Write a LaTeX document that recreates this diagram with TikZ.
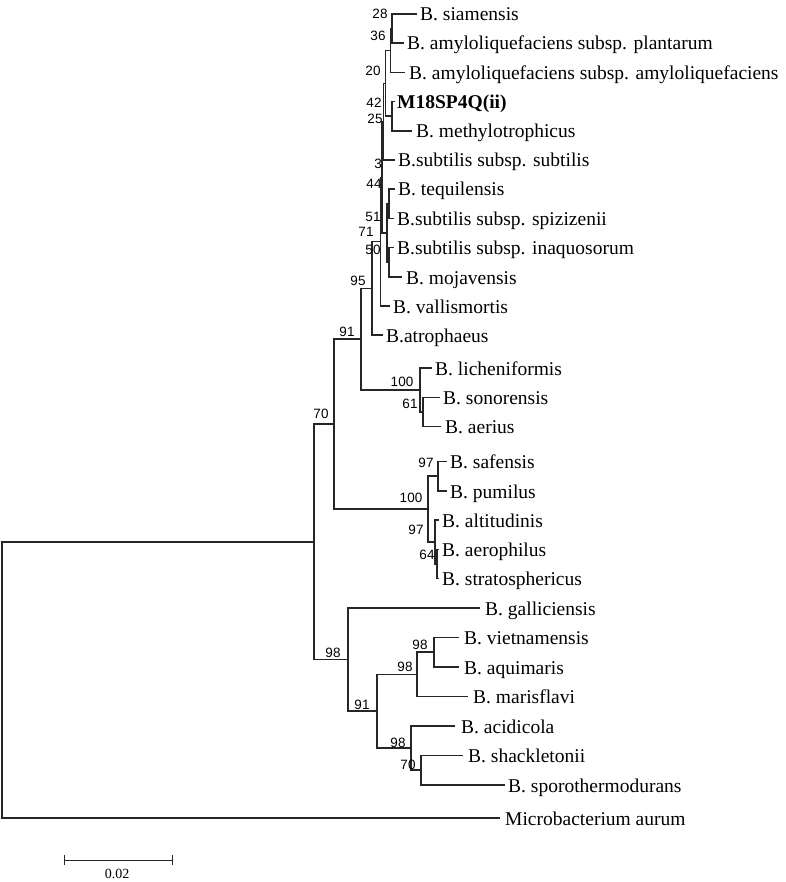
\documentclass[tikz,border=0pt]{standalone}
\usepackage{fontspec}
\setmainfont{Liberation Serif}
\newfontfamily\bsfont{Liberation Sans}
\begin{document}
\begin{tikzpicture}[x=1pt,y=-1pt,
  br/.style={line width=1.3pt, draw=black!85},
  leaf/.style={anchor=base west, inner sep=0pt, font=\fontsize{19.5}{23}\selectfont},
  bs/.style={inner sep=0pt, font=\bsfont\fontsize{13.5}{15}\selectfont},
  sbl/.style={inner sep=0pt, font=\fontsize{14}{16}\selectfont}]
\useasboundingbox (0,0) rectangle (785,882);
% leaf line ends
\coordinate (e0) at (417,14);
\coordinate (e1) at (404,43);
\coordinate (e2) at (405,72.5);
\coordinate (e3) at (395,101.5);
\coordinate (e4) at (412,131);
\coordinate (e5) at (395,160);
\coordinate (e6) at (395,189);
\coordinate (e7) at (394,218.5);
\coordinate (e8) at (394,247.5);
\coordinate (e9) at (402,277);
\coordinate (e10) at (390,306);
\coordinate (e11) at (383,335);
\coordinate (e12) at (432,368);
\coordinate (e13) at (440,397.5);
\coordinate (e14) at (441,426.5);
\coordinate (e15) at (447,461.5);
\coordinate (e16) at (447,491);
\coordinate (e17) at (439,520);
\coordinate (e18) at (439,549.5);
\coordinate (e19) at (439,578.5);
\coordinate (e20) at (480,608);
\coordinate (e21) at (459,637.5);
\coordinate (e22) at (459,667);
\coordinate (e23) at (468,696.5);
\coordinate (e24) at (455,726);
\coordinate (e25) at (463,755.5);
\coordinate (e26) at (505,785);
\coordinate (e27) at (500,818);
% leaf labels
\node[leaf] (siam) at (420,21) {B. siamensis};
\node[leaf] (plant) at (407,50) {B. amyloliquefaciens subsp. plantarum};
\node[leaf] (amylo) at (409,79.5) {B. amyloliquefaciens subsp. amyloliquefaciens};
\node[leaf] (m18) at (397,108.5) {\bfseries M18SP4Q(ii)};
\node[leaf] (methylo) at (416,138) {B. methylotrophicus};
\node[leaf] (subt) at (398,167) {B.subtilis subsp. subtilis};
\node[leaf] (tequil) at (398,196) {B. tequilensis};
\node[leaf] (spiz) at (397,225.5) {B.subtilis subsp. spizizenii};
\node[leaf] (inaq) at (397,254.5) {B.subtilis subsp. inaquosorum};
\node[leaf] (moj) at (406,284) {B. mojavensis};
\node[leaf] (vallis) at (393,313) {B. vallismortis};
\node[leaf] (atroph) at (386,342) {B.atrophaeus};
\node[leaf] (lich) at (435,375) {B. licheniformis};
\node[leaf] (son) at (443,404.5) {B. sonorensis};
\node[leaf] (aer) at (445,433.5) {B. aerius};
\node[leaf] (saf) at (450,468.5) {B. safensis};
\node[leaf] (pum) at (450,498) {B. pumilus};
\node[leaf] (alt) at (442,527) {B. altitudinis};
\node[leaf] (aeroph) at (442,556.5) {B. aerophilus};
\node[leaf] (strat) at (442,585.5) {B. stratosphericus};
\node[leaf] (gall) at (485,615) {B. galliciensis};
\node[leaf] (viet) at (464,644.5) {B. vietnamensis};
\node[leaf] (aqui) at (464,674) {B. aquimaris};
\node[leaf] (maris) at (473,703.5) {B. marisflavi};
\node[leaf] (acid) at (461,733) {B. acidicola};
\node[leaf] (shack) at (468,762.5) {B. shackletonii};
\node[leaf] (sporo) at (508,792) {B. sporothermodurans};
\node[leaf] (micro) at (505,825) {Microbacterium aurum};
% internal nodes
\coordinate (n28) at (392,28.5);
\coordinate (n36) at (390.5,50.5);
\coordinate (n42) at (392,116);
\coordinate (n20) at (385.5,83.5);
\coordinate (n25) at (383.5,121.5);
\coordinate (n44) at (389,204);
\coordinate (n50) at (389,262);
\coordinate (n51) at (387,233);
\coordinate (n3) at (382,177.5);
\coordinate (n71) at (380.5,241.5);
\coordinate (n95) at (372,288.5);
\coordinate (n61) at (423,412);
\coordinate (n100a) at (420,390);
\coordinate (n91) at (361,339);
\coordinate (n97a) at (438,476);
\coordinate (n64) at (437,564);
\coordinate (n97b) at (435,542);
\coordinate (n100b) at (428,509);
\coordinate (n70) at (334,424);
\coordinate (n98c) at (434,652);
\coordinate (n98b) at (417,674.5);
\coordinate (n70b) at (421,770);
\coordinate (n98d) at (411,748);
\coordinate (n91b) at (377,711);
\coordinate (n98a) at (348,659.5);
\coordinate (nB) at (314,542);
\coordinate (root) at (2,680);
% branches
\draw[br] (n28) |- (e0); \draw[br] (n28) |- (e1);
\draw[br] (n36) |- (n28); \draw[br] (n36) |- (e2);
\draw[br] (n42) |- (e3); \draw[br] (n42) |- (e4);
\draw[br] (n20) |- (n36); \draw[br] (n20) |- (n42);
\draw[br] (n25) |- (n20); \draw[br] (n25) |- (e5);
\draw[br] (n44) |- (e6); \draw[br] (n44) |- (e7);
\draw[br] (n50) |- (e8); \draw[br] (n50) |- (e9);
\draw[br] (n51) |- (n44); \draw[br] (n51) |- (n50);
\draw[br] (n3) |- (n25); \draw[br] (n3) |- (n51);
\draw[br] (n71) |- (n3); \draw[br] (n71) |- (e10);
\draw[br] (n95) |- (n71); \draw[br] (n95) |- (e11);
\draw[br] (n61) |- (e13); \draw[br] (n61) |- (e14);
\draw[br] (n100a) |- (e12); \draw[br] (n100a) |- (n61);
\draw[br] (n91) |- (n95); \draw[br] (n91) |- (n100a);
\draw[br] (n97a) |- (e15); \draw[br] (n97a) |- (e16);
\draw[br] (n64) |- (e18); \draw[br] (n64) |- (e19);
\draw[br] (n97b) |- (e17); \draw[br] (n97b) |- (n64);
\draw[br] (n100b) |- (n97a); \draw[br] (n100b) |- (n97b);
\draw[br] (n70) |- (n91); \draw[br] (n70) |- (n100b);
\draw[br] (n98c) |- (e21); \draw[br] (n98c) |- (e22);
\draw[br] (n98b) |- (n98c); \draw[br] (n98b) |- (e23);
\draw[br] (n70b) |- (e25); \draw[br] (n70b) |- (e26);
\draw[br] (n98d) |- (e24); \draw[br] (n98d) |- (n70b);
\draw[br] (n91b) |- (n98b); \draw[br] (n91b) |- (n98d);
\draw[br] (n98a) |- (e20); \draw[br] (n98a) |- (n91b);
\draw[br] (nB) |- (n70); \draw[br] (nB) |- (n98a);
\draw[br] (root) |- (nB); \draw[br] (root) |- (e27);
% bootstrap values
\node[bs] (b28) at (380,14) {28};
\node[bs] (b36) at (378,36) {36};
\node[bs] (b20) at (373,71) {20};
\node[bs] (b42) at (374,103) {42};
\node[bs] (b25) at (375,119) {25};
\node[bs] (b3) at (378,164) {3};
\node[bs] (b44) at (374,184) {44};
\node[bs] (b51) at (373,217) {51};
\node[bs] (b71) at (366,232) {71};
\node[bs] (b50) at (373,250) {50};
\node[bs] (b95) at (358,281) {95};
\node[bs] (b91) at (347,332) {91};
\node[bs] (b100a) at (402,382) {100};
\node[bs] (b61) at (410,404) {61};
\node[bs] (b70) at (321,414) {70};
\node[bs] (b97a) at (426,463) {97};
\node[bs] (b100b) at (411,498) {100};
\node[bs] (b97b) at (416,530) {97};
\node[bs] (b64) at (427,555) {64};
\node[bs] (b98a) at (333,653) {98};
\node[bs] (b98c) at (420,645) {98};
\node[bs] (b98b) at (405,667) {98};
\node[bs] (b91b) at (362,705) {91};
\node[bs] (b98d) at (398,743) {98};
\node[bs] (b70b) at (408,765) {70};
% scale bar
\coordinate (sb1) at (64,860);
\coordinate (sb2) at (172,860);
\draw[br, line width=1pt] (sb1) -- (sb2);
\draw[br, line width=1pt] ([yshift=5pt]sb1) -- ([yshift=-5pt]sb1);
\draw[br, line width=1pt] ([yshift=5pt]sb2) -- ([yshift=-5pt]sb2);
\node[sbl] (sblabel) at (117,874) {0.02};
\end{tikzpicture}
\end{document}
